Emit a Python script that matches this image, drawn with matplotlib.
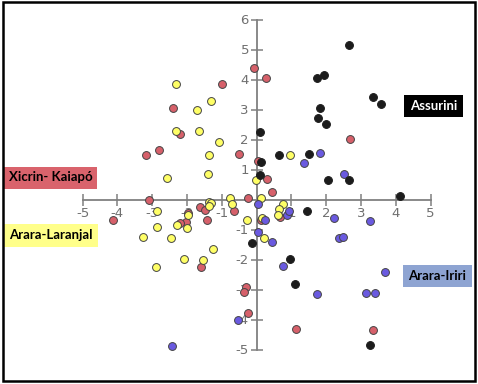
import matplotlib.pyplot as plt
from matplotlib.patches import Rectangle

plt.rcParams['axes.unicode_minus'] = False

# Assurini (black)
assurini_x = [2.66, 1.74, 1.95, 3.34, 3.57, 1.83, 1.77, 1.99, 0.10, 0.64, 1.51,
              0.12, 0.10, 2.06, 2.66, 4.12, 1.44, -0.14, 0.96, 1.10, 3.25]
assurini_y = [5.15, 4.05, 4.15, 3.42, 3.19, 3.06, 2.71, 2.53, 2.24, 1.47, 1.51,
              1.26, 0.82, 0.64, 0.64, 0.12, -0.38, -1.46, -1.99, -2.81, -4.85]

# Xicrin-Kaiapo (red)
xicrin_x = [-1.00, -2.40, -2.19, -2.80, -3.18, -0.50, -0.07, 0.27, 2.69, 0.05,
            0.29, 0.45, -0.24, -3.08, -4.12, -1.98, -2.04, -2.20, -1.63, -1.49,
            -1.43, -0.66, -1.60, -0.29, -0.36, -0.26, 1.13, 3.35, 0.13, 0.68]
xicrin_y = [3.84, 3.04, 2.19, 1.64, 1.48, 1.52, 4.39, 4.06, 2.01, 1.27,
            0.68, 0.26, 0.06, -0.02, -0.68, -0.44, -0.74, -0.79, -0.26, -0.35,
            -0.68, -0.37, -2.26, -2.93, -3.08, -3.79, -4.32, -4.35, -0.68, -0.57]

# Arara-Laranjal (yellow)
laranjal_x = [-2.31, -1.30, -1.71, -2.31, -1.65, -1.09, -1.36, -1.39, -2.57, 0.96,
              -0.03, 0.12, -0.76, -0.72, 0.77, 0.65, 0.61, -0.28, 0.17, 0.20,
              -1.24, -1.53, -2.85, -1.98, -2.85, -2.28, -2.01, -3.26, -2.45, -2.08,
              -2.88, -1.37, -1.31, -1.36]
laranjal_y = [3.84, 3.28, 2.97, 2.28, 2.28, 1.91, 1.49, 0.86, 0.72, 1.47,
              0.64, 0.05, 0.04, -0.14, -0.16, -0.32, -0.52, -0.68, -0.62, -1.27,
              -1.64, -2.03, -0.37, -0.50, -0.91, -0.85, -0.94, -1.26, -1.27, -1.99,
              -2.24, -0.08, -0.12, -0.20]

# Arara-Iriri (blue)
iriri_x = [1.37, 1.82, 2.52, 0.05, 0.24, 0.86, 0.94, 2.23, 3.25, 2.38,
           2.47, 0.05, 0.44, 0.77, 3.70, 1.74, 3.13, 3.39, -0.54, -2.43]
iriri_y = [1.22, 1.54, 0.85, -0.15, -0.68, -0.52, -0.37, -0.61, -0.72, -1.27,
           -1.24, -1.07, -1.43, -2.21, -2.43, -3.16, -3.13, -3.13, -4.02, -4.88]

x_ticks = [-5, -4, -3, -2, -1, 1, 2, 3, 4, 5]
y_ticks = [-5, -4, -3, -2, -1, 1, 2, 3, 4, 5, 6]

fig = plt.figure(figsize=(4.78, 3.84), dpi=100)
ax = fig.add_axes([0, 0, 1, 1])
ax.set_xlim(-7.37, 6.36)
ax.set_ylim(-6.15, 6.65)

ms = 32
ax.scatter(xicrin_x, xicrin_y, s=ms, c='#d6606a', edgecolors='#444444', linewidths=0.7, zorder=3)
ax.scatter(laranjal_x, laranjal_y, s=ms, c='#ffff66', edgecolors='#444444', linewidths=0.7, zorder=4)
ax.scatter(iriri_x, iriri_y, s=ms, c='#6a5ae0', edgecolors='#444444', linewidths=0.7, zorder=5)
ax.scatter(assurini_x, assurini_y, s=ms, c='#1c1c1c', edgecolors='#1c1c1c', linewidths=0.7, zorder=6)

# axes through the origin
for side in ['top', 'right']:
    ax.spines[side].set_visible(False)
ax.spines['left'].set_position(('data', 0))
ax.spines['bottom'].set_position(('data', 0))
ax.spines['left'].set_bounds(-5, 6)
ax.spines['bottom'].set_bounds(-5, 5)
for side in ['left', 'bottom']:
    ax.spines[side].set_color('#808080')
    ax.spines[side].set_linewidth(1.3)
ax.set_xticks(x_ticks)
ax.set_yticks(y_ticks)
ax.tick_params(direction='inout', length=9, width=1.1, color='#808080',
               labelcolor='#707070', labelsize=9.5, pad=1)
ax.set_facecolor('none')

# group labels
label_font = dict(family='Lato', weight='bold', fontsize=9.5)
boxes = [
    ('Xicrin- Kaiapó', 4, 166.5, 93, 22, '#d9636c', 'black'),
    ('Arara-Laranjal', 3, 223.5, 95, 23, '#ffff8a', 'black'),
    ('Assurini', 404, 94.5, 59, 22, 'black', 'white'),
    ('Arara-Iriri', 403, 264.5, 69, 22, '#8ea4d2', 'black'),
]
W, H = 478.0, 384.0
for text, bx, by, bw, bh, fc, tc in boxes:
    fig.patches.append(Rectangle((bx / W, 1 - (by + bh) / H), bw / W, bh / H,
                                 transform=fig.transFigure, facecolor=fc,
                                 edgecolor='none', zorder=7))
    fig.text((bx + bw / 2) / W, 1 - (by + bh / 2) / H, text, color=tc,
             ha='center', va='center', zorder=8, **label_font)

# outer frame
fig.patches.append(Rectangle((3 / W, 3 / H), 472 / W, 379 / H, transform=fig.transFigure,
                             facecolor='none', edgecolor='black', linewidth=1.8, zorder=9))

fig.savefig('out.png', dpi=100)
